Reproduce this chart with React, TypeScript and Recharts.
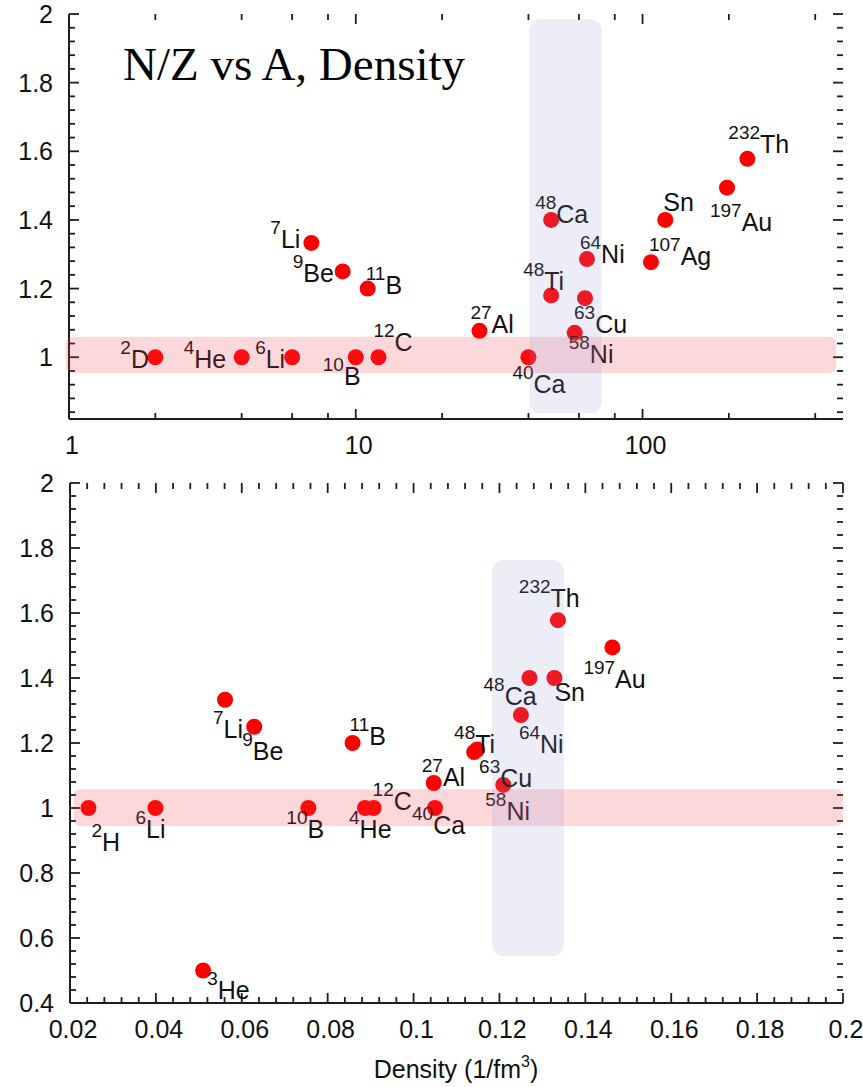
import React from 'react';
import { ScatterChart, Scatter, XAxis, YAxis, ReferenceArea, ReferenceLine } from 'recharts';

const SANS = '"Liberation Sans", Arial, Helvetica, sans-serif';
const SERIF = '"Liberation Serif", "Times New Roman", serif';
const INK = '#111';
const FRAME = '#1e1e1e';
const DOT = '#ff0000';

// upper panel: N/Z against mass number A (log axis)
const topSymbols = ['D', 'He', 'Li', 'Li', 'Be', 'B', 'B', 'C', 'Al', 'Ca', 'Ca', 'Ti', 'Ni', 'Cu', 'Ni', 'Ag', 'Sn', 'Au', 'Th'];
const topMass = ['2', '4', '6', '7', '9', '10', '11', '12', '27', '40', '48', '48', '58', '63', '64', '107', '', '197', '232'];
const topA = [2, 4, 6, 7, 9, 10, 11, 12, 27, 40, 48, 48, 58, 63, 64, 107, 120, 197, 232];
const topNZ = [1, 1, 1, 1.333, 1.25, 1, 1.2, 1, 1.077, 1, 1.4, 1.18, 1.071, 1.172, 1.286, 1.277, 1.4, 1.494, 1.578];
const topLabelDx = [-35, -58, -37, -41, -50, -33, -2, -5, -9, -16, -16, -28, -6, -11, -7, -2, -2, -17, -19];
const topLabelDy = [11, 11, 11, 5, 11, 28, 5, -6, 2, 36, 3, -5, 30, 35, 4, 3, -9, 43, -6];

// lower panel: N/Z against density
const bottomSymbols = ['H', 'He', 'He', 'Li', 'Li', 'Be', 'B', 'B', 'C', 'Al', 'Ca', 'Ca', 'Ti', 'Ni', 'Cu', 'Ni', 'Sn', 'Au', 'Th'];
const bottomMass = ['2', '3', '4', '6', '7', '9', '10', '11', '12', '27', '40', '48', '48', '58', '63', '64', '', '197', '232'];
const bottomDensity = [0.0243, 0.051, 0.0887, 0.0399, 0.0561, 0.0629, 0.0755, 0.0858, 0.0907, 0.1047, 0.105, 0.127, 0.1148, 0.1209, 0.1141, 0.125, 0.1328, 0.1463, 0.1336];
const bottomNZ = [1, 0.5, 1, 1, 1.333, 1.25, 1, 1.2, 1, 1.077, 1, 1.4, 1.18, 1.071, 1.172, 1.286, 1.4, 1.494, 1.578];
const bottomLabelDx = [3, 4, -16, -20, -12, -12, -22, -3, -1, -12, -23, -46, -23, -18, 5, -2, 0, -29, -39];
const bottomLabelDy = [43, 28, 30, 30, 38, 33, 30, 2, 2, 3, 26, 27, 3, 35, 35, 38, 23, 41, -13];

// axis ticks
const massTicks = [1, 2, 4, 6, 8, 10, 20, 40, 60, 80, 100, 200, 400];
const massMajor = [1, 10, 100];

const steps = (from: number, to: number, step: number) => {
  const out: number[] = [];
  const n = Math.round((to - from) / step);
  for (let i = 0; i <= n; i++) out.push(+(from + i * step).toFixed(4));
  return out;
};
const topNZTicks = steps(0.84, 2, 0.04);
const bottomNZTicks = steps(0.4, 2, 0.04);
const densityTicks = steps(0.02, 0.2, 0.004);

const onGrid = (v: number, step: number) => Math.abs(v / step - Math.round(v / step)) < 1e-6;
const fmt = (v: number) => String(Math.round(v * 1000) / 1000);

const massMajorTest = (v: number) => massMajor.includes(v);
const nzMajorTest = (v: number) => onGrid(v, 0.2);
const densityMajorTest = (v: number) => onGrid(v, 0.02);

// tick labels (left / bottom axes only, major ticks)
const xLabel = (isMajor: (v: number) => boolean) => (props: any) => {
  const v = Number(props.payload.value);
  if (!isMajor(v)) return <g />;
  return (
    <text x={Number(props.x) + 3} y={Number(props.y) + 35} textAnchor="middle" fontFamily={SANS} fontSize={25} fill={INK}>
      {fmt(v)}
    </text>
  );
};
const yLabel = (isMajor: (v: number) => boolean) => (props: any) => {
  const v = Number(props.payload.value);
  if (!isMajor(v)) return <g />;
  return (
    <text x={Number(props.x) - 16} y={Number(props.y) + 9} textAnchor="end" fontFamily={SANS} fontSize={25} fill={INK}>
      {fmt(v)}
    </text>
  );
};

// inward tick marks at both ends of a reference line spanning the plot
const vTick = (major: boolean) => (p: any) => {
  const len = major ? 10 : 6;
  const top = Math.min(p.y1, p.y2);
  const bottom = Math.max(p.y1, p.y2);
  return (
    <g>
      <line x1={p.x1} y1={bottom} x2={p.x1} y2={bottom - len} stroke={FRAME} strokeWidth={1.8} />
      <line x1={p.x1} y1={top} x2={p.x1} y2={top + len} stroke={FRAME} strokeWidth={1.8} />
    </g>
  );
};
const hTick = (major: boolean) => (p: any) => {
  const len = major ? 10 : 6;
  const left = Math.min(p.x1, p.x2);
  const right = Math.max(p.x1, p.x2);
  return (
    <g>
      <line x1={left} y1={p.y1} x2={left + len} y2={p.y1} stroke={FRAME} strokeWidth={1.8} />
      <line x1={right} y1={p.y1} x2={right - len} y2={p.y1} stroke={FRAME} strokeWidth={1.8} />
    </g>
  );
};

const makeNucleus = (dx: number[], dy: number[]) => (props: any) => {
  const { cx, cy, payload } = props;
  if (cx == null || cy == null) return <g />;
  const i = payload.i as number;
  return (
    <g>
      <circle cx={cx} cy={cy} r={8} fill={DOT} />
      <text x={cx + dx[i]} y={cy + dy[i]} fontFamily={SANS} fontSize={25} fill={INK}>
        {payload.mass && (
          <tspan fontSize={19} dy={-14}>
            {payload.mass}
          </tspan>
        )}
        <tspan dy={payload.mass ? 14 : 0}>{payload.symbol}</tspan>
      </text>
    </g>
  );
};

const band = (fill: string, opacity: number, rx: number) => (p: any) =>
  <rect x={p.x} y={p.y} width={p.width} height={p.height} rx={rx} fill={fill} fillOpacity={opacity} />;

const pinkBand = band('rgb(245,60,75)', 0.2, 7);
const lavenderBand = band('rgb(150,150,215)', 0.17, 11);

const axisLine = { stroke: FRAME, strokeWidth: 2 };

const topData = topA.map((a, i) => ({ x: a, y: topNZ[i], symbol: topSymbols[i], mass: topMass[i], i }));
const bottomData = bottomDensity.map((d, i) => ({ x: d, y: bottomNZ[i], symbol: bottomSymbols[i], mass: bottomMass[i], i }));

const shared = { interval: 0 as const, tickSize: 0, tickMargin: 0, tickLine: false, axisLine, allowDataOverflow: true };

function MassPanel() {
  return (
    <ScatterChart width={863} height={470} margin={{ top: 14, right: 20, bottom: 0, left: 0 }}>
      <XAxis dataKey="x" type="number" scale="log" domain={[1, 500]} ticks={massTicks} height={51} {...shared}
        tick={xLabel(massMajorTest)} />
      <XAxis xAxisId="top" orientation="top" type="number" scale="log" domain={[1, 500]} height={0} {...shared} tick={false} />
      <YAxis dataKey="y" type="number" domain={[0.82, 2]} ticks={topNZTicks} width={69} {...shared}
        tick={yLabel(nzMajorTest)} />
      <YAxis yAxisId="right" orientation="right" type="number" domain={[0.82, 2]} width={0} {...shared} tick={false} />
      {massTicks.map((v) => (
        <ReferenceLine key={`x${v}`} x={v} shape={vTick(massMajorTest(v))} />
      ))}
      {topNZTicks.map((v) => (
        <ReferenceLine key={`y${v}`} y={v} shape={hTick(nzMajorTest(v))} />
      ))}
      <Scatter data={topData} isAnimationActive={false} shape={makeNucleus(topLabelDx, topLabelDy)} />
      <ReferenceArea x1={0.975} x2={473} y1={0.953} y2={1.06} ifOverflow="visible" shape={pinkBand} zIndex={700} />
      <ReferenceArea x1={40.3} x2={72} y1={0.837} y2={1.985} ifOverflow="visible" shape={lavenderBand} zIndex={700} />
    </ScatterChart>
  );
}

function DensityPanel() {
  return (
    <ScatterChart width={863} height={617} margin={{ top: 13, right: 20, bottom: 0, left: 0 }}>
      <XAxis dataKey="x" type="number" domain={[0.02, 0.2]} ticks={densityTicks} height={84} {...shared}
        tick={xLabel(densityMajorTest)} />
      <XAxis xAxisId="top" orientation="top" type="number" domain={[0.02, 0.2]} height={0} {...shared} tick={false} />
      <YAxis dataKey="y" type="number" domain={[0.4, 2]} ticks={bottomNZTicks} width={70} {...shared}
        tick={yLabel(nzMajorTest)} />
      <YAxis yAxisId="right" orientation="right" type="number" domain={[0.4, 2]} width={0} {...shared} tick={false} />
      {densityTicks.map((v) => (
        <ReferenceLine key={`x${v}`} x={v} shape={vTick(densityMajorTest(v))} />
      ))}
      {bottomNZTicks.map((v) => (
        <ReferenceLine key={`y${v}`} y={v} shape={hTick(nzMajorTest(v))} />
      ))}
      <Scatter data={bottomData} isAnimationActive={false} shape={makeNucleus(bottomLabelDx, bottomLabelDy)} />
      <ReferenceArea x1={0.0208} x2={0.2} y1={0.945} y2={1.058} ifOverflow="visible" shape={pinkBand} zIndex={700} />
      <ReferenceArea x1={0.1183} x2={0.135} y1={0.545} y2={1.763} ifOverflow="visible" shape={lavenderBand} zIndex={700} />
    </ScatterChart>
  );
}

export default function App() {
  return (
    <div style={{ position: 'absolute', left: 0, top: 0, width: 863, height: 1087, background: '#fff' }}>
      <div style={{ position: 'absolute', left: 0, top: 0 }}>
        <MassPanel />
      </div>
      <div style={{ position: 'absolute', left: 0, top: 470 }}>
        <DensityPanel />
      </div>
      <svg width={863} height={1087} style={{ position: 'absolute', left: 0, top: 0, pointerEvents: 'none' }}>
        <text x={123} y={80} fontFamily={SERIF} fontSize={47} fill="#000">
          N/Z vs A, Density
        </text>
        <text x={456} y={1078} textAnchor="middle" fontFamily={SANS} fontSize={25} fill={INK}>
          Density (1/fm
          <tspan fontSize={16} dy={-11}>
            3
          </tspan>
          <tspan dy={11}>)</tspan>
        </text>
      </svg>
    </div>
  );
}
